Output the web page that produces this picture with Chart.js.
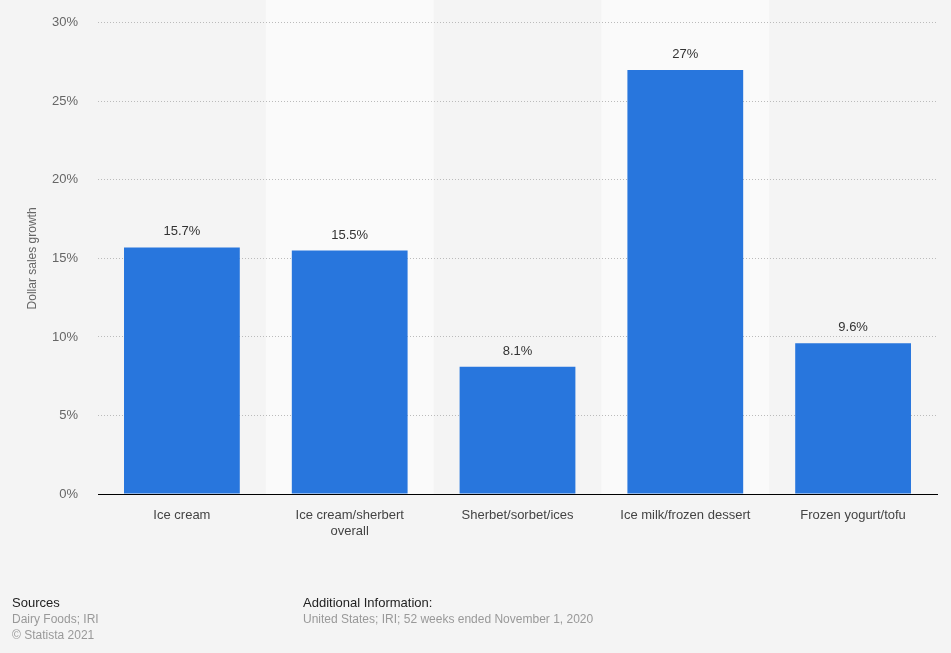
<!DOCTYPE html>
<html lang="en">
<head>
  <meta charset="UTF-8" />
  <title>Dollar sales growth</title>
  <script src="https://cdn.jsdelivr.net/npm/chart.js"></script>
  <style>
    html, body { margin: 0; padding: 0; background: #f4f4f4; }
    #wrap { position: relative; width: 951px; height: 653px; overflow: hidden; }
    canvas { position: absolute; left: 0; top: -5px; }
    .foot { position: absolute; font-family: "Liberation Sans", Arial, sans-serif; font-size: 12px; line-height: 16px; color: #999; }
    .foot b { font-weight: normal; color: #222; font-size: 13px; }
  </style>
</head>
<body>
  <div id="wrap">
    <canvas id="chart" width="951" height="658"></canvas>
    <div class="foot" style="left:12px; top:595px;"><b>Sources</b><br>Dairy Foods; IRI<br>© Statista 2021</div>
    <div class="foot" style="left:303px; top:595px;"><b>Additional Information:</b><br>United States; IRI; 52 weeks ended November 1, 2020</div>
  </div>

  <script>
    const categories = [
      'Ice cream',
      ['Ice cream/sherbert', 'overall'],
      'Sherbet/sorbet/ices',
      'Ice milk/frozen dessert',
      'Frozen yogurt/tofu'
    ];
    const growth = [15.7, 15.5, 8.1, 27, 9.6];
    const yTicks = [0, 5, 10, 15, 20, 25, 30];

    // lighter bands behind every second category
    const bands = {
      id: 'bands',
      beforeDraw(chart) {
        const { ctx, chartArea, scales } = chart;
        const step = scales.x.getPixelForValue(1) - scales.x.getPixelForValue(0);
        ctx.save();
        ctx.fillStyle = '#fafafa';
        categories.forEach((c, i) => {
          if (i % 2 === 1) {
            const cx = scales.x.getPixelForValue(i);
            ctx.fillRect(cx - step / 2, 0, step, chartArea.bottom);
          }
        });
        ctx.restore();
      }
    };

    // value labels above bars
    const valueLabels = {
      id: 'valueLabels',
      afterDatasetsDraw(chart) {
        const { ctx } = chart;
        const meta = chart.getDatasetMeta(0);
        ctx.save();
        ctx.font = '13px "Liberation Sans", Arial, sans-serif';
        ctx.fillStyle = '#333';
        ctx.textAlign = 'center';
        ctx.textBaseline = 'bottom';
        meta.data.forEach((bar, i) => {
          ctx.fillText(growth[i] + '%', bar.x, bar.y - 9);
        });
        ctx.restore();
      }
    };

    new Chart(document.getElementById('chart'), {
      type: 'bar',
      data: {
        labels: categories,
        datasets: [{
          data: growth,
          backgroundColor: '#2876dd',
          categoryPercentage: 1,
          barPercentage: 0.69
        }]
      },
      options: {
        responsive: false,
        animation: false,
        layout: { padding: { left: 0, right: 14, top: 0, bottom: 109 } },
        plugins: { legend: { display: false }, tooltip: { enabled: false } },
        scales: {
          x: {
            grid: { display: false },
            border: { display: true, color: '#000', width: 1 },
            ticks: {
              color: '#444',
              padding: 6,
              maxRotation: 0,
              font: { family: '"Liberation Sans", Arial, sans-serif', size: 13 }
            },
            afterFit(scale) { scale.height = 50; }
          },
          y: {
            min: 0,
            max: 30,
            afterBuildTicks(scale) { scale.ticks = yTicks.map(v => ({ value: v })); },
            afterFit(scale) { scale.width = 98; },
            border: { display: false, dash: [1, 2] },
            grid: { color: '#bbbbbb', drawTicks: false },
            ticks: {
              color: '#666',
              padding: 20,
              font: { family: '"Liberation Sans", Arial, sans-serif', size: 13 },
              callback: v => v + '%'
            },
            title: {
              display: true,
              text: 'Dollar sales growth',
              color: '#666',
              padding: { top: 25, bottom: 0 },
              font: { family: '"Liberation Sans", Arial, sans-serif', size: 12 }
            }
          }
        }
      },
      plugins: [bands, valueLabels]
    });
  </script>
</body>
</html>
